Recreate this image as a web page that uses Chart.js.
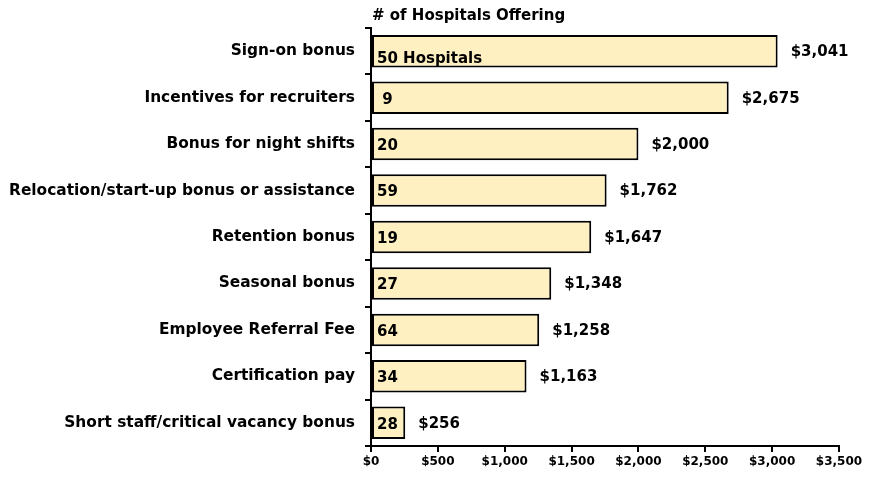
<!DOCTYPE html>
<html lang="en">
<head>
  <meta charset="UTF-8" />
  <title>Hospital Incentives</title>
  <script src="https://cdn.jsdelivr.net/npm/chart.js"></script>
  <style>
    body { margin: 0; background: white; }
    #wrap { width: 876px; height: 477px; }
  </style>
</head>
<body>
  <div id="wrap"><canvas id="barChart" width="876" height="477"></canvas></div>
  <script>
    // Data
    const categories = [
      "Sign-on bonus",
      "Incentives for recruiters",
      "Bonus for night shifts",
      "Relocation/start-up bonus or assistance",
      "Retention bonus",
      "Seasonal bonus",
      "Employee Referral Fee",
      "Certification pay",
      "Short staff/critical vacancy bonus"
    ];
    const amounts = [3041, 2675, 2000, 1762, 1647, 1348, 1258, 1163, 256];
    const hospitalCounts = ["50 Hospitals", " 9", "20", "59", "19", "27", "64", "34", "28"];
    const chartTitle = "# of Hospitals Offering";

    const FONT = '"DejaVu Sans", Verdana, sans-serif';
    const money = v => "$" + v.toLocaleString("en-US");

    // draws the counts inside the bars, the amounts after them and the title
    const labelPlugin = {
      id: "labels",
      afterDatasetsDraw(chart) {
        const ctx = chart.ctx;
        const meta = chart.getDatasetMeta(0);
        ctx.save();
        ctx.fillStyle = "#000";
        ctx.font = "bold 15px " + FONT;
        ctx.textBaseline = "middle";
        meta.data.forEach((bar, i) => {
          const left = chart.scales.x.getPixelForValue(0);
          ctx.textAlign = "left";
          ctx.fillText(hospitalCounts[i], left + 6, bar.y + (i === 0 ? 8 : 2));
          ctx.fillText(money(amounts[i]), bar.x + 13, bar.y + 1);
        });
        ctx.textBaseline = "alphabetic";
        ctx.fillText(chartTitle, chart.chartArea.left + 1, 20);
        ctx.restore();
      }
    };

    new Chart(document.getElementById("barChart"), {
      type: "bar",
      data: {
        labels: categories,
        datasets: [{
          data: amounts,
          backgroundColor: "#fff0c2",
          borderColor: "#000",
          borderWidth: 2,
          borderSkipped: false,
          barPercentage: 0.7,
          categoryPercentage: 1
        }]
      },
      options: {
        indexAxis: "y",
        responsive: false,
        animation: false,
        layout: { padding: { left: 8, right: 37, top: 28, bottom: 0 } },
        plugins: { legend: { display: false }, tooltip: { enabled: false } },
        scales: {
          x: {
            min: 0, max: 3500,
            afterFit: s => { s.height = 31; },
            border: { color: "#000", width: 2 },
            grid: { drawOnChartArea: false, color: "#000", lineWidth: 2, tickLength: 6 },
            ticks: {
              stepSize: 500, color: "#000", padding: 3,
              font: { family: FONT, size: 12, weight: "bold" },
              callback: v => money(v)
            }
          },
          y: {
            afterFit: s => { s.width = 363; },
            border: { color: "#000", width: 2 },
            grid: { drawOnChartArea: false, offset: true, color: "#000", lineWidth: 2, tickLength: 6 },
            ticks: {
              color: "#000", padding: 10,
              font: { family: FONT, size: 15.4, weight: "bold" }
            }
          }
        }
      },
      plugins: [labelPlugin]
    });
  </script>
</body>
</html>
